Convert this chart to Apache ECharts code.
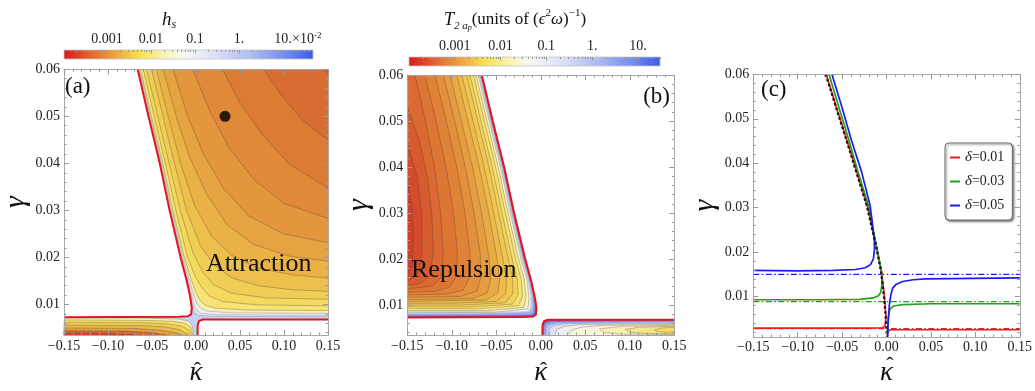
<!DOCTYPE html>
<html><head><meta charset="utf-8">
<script src="https://cdn.jsdelivr.net/npm/echarts@6/dist/echarts.min.js"></script>
<style>html,body{margin:0;padding:0;background:#fff}#c{width:1035px;height:391px}</style>
</head><body><div id="c"></div><script>
// ================= DATA =================
const xRange = [-0.15, 0.15];
const yRangeAB = [0.0035, 0.06];
const yRangeC = [0.0009, 0.06];
const xTicks = [-0.15, -0.10, -0.05, 0, 0.05, 0.10, 0.15];
const xTickLabels = ['−0.15', '−0.10', '−0.05', '0.00', '0.05', '0.10', '0.15'];
const yTicks = [0.01, 0.02, 0.03, 0.04, 0.05, 0.06];
const yTickLabels = ['0.01', '0.02', '0.03', '0.04', '0.05', '0.06'];
const cbTickValues = [0.001, 0.01, 0.1, 1, 10];
const cbTickLabelsA = ['0.001', '0.01', '0.1', '1.', '10.'];
const cbTickLabelsB = ['0.001', '0.01', '0.1', '1.', '10.'];
const cbRangeA = [1.054e-4, 48.1];
const cbRangeB = [1.0e-4, 30.3];

// shared phase boundaries (red curves)
const boundUpper = [[-0.0663,0.06],[-0.054,0.05],[-0.0412,0.04],[-0.030,0.03],[-0.0175,0.02],[-0.0105,0.015],[-0.0065,0.0115],[-0.0048,0.0092],[-0.0055,0.0079],[-0.009,0.0075],[-0.02,0.0074],[-0.15,0.0073]];
const boundLower = [[0.0018,0.0035],[0.0019,0.0056],[0.0035,0.0065],[0.008,0.0068],[0.15,0.0068]];

// panel (a) contour lines, attraction region (top edge -> right edge)
const aC0a = [[-0.0655,0.06],[-0.0532,0.05],[-0.0404,0.04],[-0.0292,0.03],[-0.0167,0.02],[-0.0097,0.015],[-0.0056,0.0115],[-0.0036,0.0092],[-0.002,0.0082],[0.003,0.0077],[0.02,0.0075],[0.15,0.0074]];
const aC0b = [[-0.0647,0.06],[-0.0524,0.05],[-0.0396,0.04],[-0.0284,0.03],[-0.0158,0.02],[-0.0087,0.015],[-0.0044,0.0117],[-0.002,0.0097],[0.001,0.0087],[0.006,0.0081],[0.025,0.0078],[0.15,0.0077]];
const aC0c = [[-0.064,0.06],[-0.0516,0.05],[-0.0388,0.04],[-0.0275,0.03],[-0.0148,0.02],[-0.0075,0.0152],[-0.0028,0.012],[0.001,0.0102],[0.005,0.0092],[0.012,0.0086],[0.04,0.0082],[0.15,0.0081]];
const aC1 = [[-0.0632,0.06],[-0.0507,0.05],[-0.0378,0.04],[-0.0263,0.03],[-0.0133,0.02],[-0.0058,0.0155],[-0.0005,0.0127],[0.004,0.0111],[0.01,0.0099],[0.022,0.0092],[0.06,0.0088],[0.15,0.0087]];
const aC2 = [[-0.0599,0.06],[-0.0475,0.05],[-0.0348,0.04],[-0.0228,0.03],[-0.0095,0.02],[-0.0005,0.0158],[0.007,0.0135],[0.015,0.0118],[0.03,0.0106],[0.07,0.0099],[0.15,0.0097]];
const aC3 = [[-0.0562,0.06],[-0.0435,0.05],[-0.0305,0.04],[-0.0178,0.03],[-0.0035,0.021],[0.008,0.0168],[0.02,0.0142],[0.04,0.0124],[0.08,0.0114],[0.15,0.0111]];
const aC4 = [[-0.0505,0.06],[-0.0375,0.05],[-0.0245,0.04],[-0.0108,0.03],[0.005,0.0225],[0.02,0.0185],[0.04,0.0157],[0.07,0.014],[0.11,0.0131],[0.15,0.0128]];
const aC5 = [[-0.0449,0.06],[-0.0315,0.05],[-0.0175,0.04],[-0.0015,0.031],[0.018,0.0245],[0.04,0.0205],[0.07,0.0177],[0.11,0.0163],[0.15,0.0156]];
const aC6 = [[-0.0374,0.06],[-0.0225,0.05],[-0.0065,0.041],[0.012,0.0335],[0.035,0.027],[0.065,0.0228],[0.105,0.0203],[0.15,0.0192]];
const aC7 = [[-0.0261,0.06],[-0.0095,0.05],[0.009,0.0418],[0.032,0.0345],[0.06,0.0288],[0.1,0.025],[0.15,0.0231]];
const aC8 = [[-0.0036,0.06],[0.016,0.051],[0.038,0.0432],[0.066,0.0365],[0.1,0.0315],[0.15,0.0283]];
const aC9 = [[0.0302,0.06],[0.05,0.0528],[0.075,0.0462],[0.105,0.04],[0.15,0.0347]];
const aC10 = [[0.0771,0.06],[0.097,0.0545],[0.122,0.049],[0.15,0.045]];
const aC11 = [[0.1447,0.06],[0.15,0.0591]];
// panel (a) contour lines, lower-left strip (left edge -> bottom edge)
const aL0 = [[-0.15,0.00715],[-0.06,0.0071],[-0.02,0.0069],[-0.009,0.0065],[-0.0045,0.0056],[-0.0025,0.0035]];
const aL1 = [[-0.15,0.0067],[-0.06,0.0066],[-0.025,0.0064],[-0.012,0.006],[-0.006,0.0052],[-0.0038,0.0035]];
const aL2 = [[-0.15,0.0062],[-0.06,0.0061],[-0.03,0.0058],[-0.015,0.0053],[-0.008,0.0045],[-0.0055,0.0035]];
const aL3 = [[-0.15,0.0056],[-0.06,0.0055],[-0.035,0.0052],[-0.018,0.0046],[-0.009,0.0035]];
const aL4 = [[-0.15,0.005],[-0.07,0.0049],[-0.04,0.0045],[-0.022,0.0039],[-0.016,0.0035]];
const aL5 = [[-0.15,0.0044],[-0.08,0.0043],[-0.05,0.004],[-0.033,0.0035]];
const aL6 = [[-0.15,0.0039],[-0.1,0.0038],[-0.07,0.0035]];
const aPoint = [[0.033, 0.05]];

// panel (b) contour lines, repulsion region (top edge -> left edge)
const bDb1 = [[-0.0668,0.06],[-0.0546,0.05],[-0.0418,0.04],[-0.0306,0.03],[-0.0182,0.02],[-0.0113,0.015],[-0.0074,0.0117],[-0.0059,0.0094],[-0.0066,0.0081],[-0.01,0.0077],[-0.15,0.0076]];
const bDb2 = [[-0.0673,0.06],[-0.0552,0.05],[-0.0424,0.04],[-0.0313,0.03],[-0.0189,0.02],[-0.0121,0.0152],[-0.0082,0.012],[-0.0071,0.0097],[-0.0085,0.0083],[-0.013,0.0079],[-0.15,0.0078]];
const bDb3 = [[-0.068,0.06],[-0.0559,0.05],[-0.0431,0.04],[-0.032,0.03],[-0.0197,0.02],[-0.013,0.0155],[-0.0093,0.012],[-0.0088,0.0095],[-0.012,0.0084],[-0.04,0.0081],[-0.15,0.008]];
const bDb4 = [[-0.069,0.06],[-0.0568,0.05],[-0.044,0.04],[-0.0329,0.03],[-0.0207,0.02],[-0.014,0.0155],[-0.0108,0.0118],[-0.011,0.0092],[-0.016,0.0085],[-0.15,0.0083]];
const bD12 = [[-0.0702,0.06],[-0.058,0.05],[-0.0452,0.04],[-0.0342,0.03],[-0.0222,0.02],[-0.0155,0.0155],[-0.0132,0.0116],[-0.0145,0.0092],[-0.05,0.0085],[-0.15,0.0085]];
const bD11 = [[-0.0728,0.06],[-0.0605,0.05],[-0.0478,0.04],[-0.0368,0.03],[-0.025,0.02],[-0.0185,0.0155],[-0.0165,0.0118],[-0.019,0.0095],[-0.06,0.0088],[-0.15,0.0088]];
const bD10 = [[-0.0758,0.06],[-0.0635,0.05],[-0.0508,0.04],[-0.0398,0.03],[-0.0282,0.02],[-0.022,0.0155],[-0.0205,0.012],[-0.025,0.0099],[-0.07,0.0092],[-0.15,0.0092]];
const bD9 = [[-0.0796,0.06],[-0.0672,0.05],[-0.0545,0.04],[-0.0435,0.03],[-0.0322,0.02],[-0.0265,0.0155],[-0.0255,0.0122],[-0.032,0.0102],[-0.08,0.0096],[-0.15,0.0096]];
const bD8 = [[-0.0833,0.06],[-0.0708,0.05],[-0.0582,0.04],[-0.0473,0.03],[-0.0365,0.02],[-0.0315,0.0155],[-0.0315,0.0124],[-0.04,0.0105],[-0.09,0.01],[-0.15,0.01]];
const bD7 = [[-0.0889,0.06],[-0.0762,0.05],[-0.0636,0.04],[-0.0528,0.03],[-0.0425,0.02],[-0.0385,0.0155],[-0.0395,0.0125],[-0.05,0.0108],[-0.1,0.0104],[-0.15,0.0104]];
const bD6 = [[-0.0945,0.06],[-0.0818,0.05],[-0.0692,0.04],[-0.0585,0.03],[-0.049,0.02],[-0.0462,0.0155],[-0.0485,0.0126],[-0.062,0.0111],[-0.15,0.0108]];
const bD5 = [[-0.102,0.06],[-0.0892,0.05],[-0.0768,0.04],[-0.0665,0.03],[-0.058,0.02],[-0.0565,0.0155],[-0.06,0.0127],[-0.076,0.0114],[-0.15,0.0112]];
const bD4 = [[-0.1096,0.06],[-0.0968,0.05],[-0.0848,0.04],[-0.075,0.03],[-0.068,0.021],[-0.0675,0.0158],[-0.072,0.013],[-0.09,0.0119],[-0.15,0.0117]];
const bD3 = [[-0.1189,0.06],[-0.1062,0.05],[-0.0945,0.04],[-0.0852,0.03],[-0.0795,0.021],[-0.0805,0.0158],[-0.087,0.0133],[-0.105,0.0124],[-0.15,0.0122]];
const bD2 = [[-0.1301,0.06],[-0.1178,0.05],[-0.1065,0.04],[-0.098,0.03],[-0.0935,0.021],[-0.0955,0.016],[-0.103,0.0138],[-0.12,0.013],[-0.15,0.0128]];
const bD1 = [[-0.1413,0.06],[-0.1295,0.05],[-0.1195,0.04],[-0.1125,0.03],[-0.1095,0.021],[-0.112,0.016],[-0.121,0.0142],[-0.15,0.0135]];
const bLoop3 = [[-0.15,0.053],[-0.137,0.046],[-0.1275,0.038],[-0.1225,0.03],[-0.121,0.022],[-0.124,0.0165],[-0.134,0.0148],[-0.15,0.0142]];
const bLoop2 = [[-0.15,0.045],[-0.139,0.038],[-0.134,0.03],[-0.1335,0.022],[-0.137,0.017],[-0.15,0.015]];
const bLoop1 = [[-0.15,0.037],[-0.1445,0.031],[-0.143,0.025],[-0.1445,0.019],[-0.15,0.016]];
// panel (b) contour lines, lower-right strip
const bF1 = [[0.0024,0.0035],[0.0025,0.0055],[0.0042,0.0062],[0.009,0.00655],[0.15,0.0066]];
const bF2 = [[0.0035,0.0035],[0.0036,0.0053],[0.0055,0.006],[0.012,0.0064],[0.15,0.0065]];
const bF3 = [[0.0055,0.0035],[0.0058,0.005],[0.0085,0.0058],[0.018,0.0062],[0.15,0.0064]];
const bF4 = [[0.009,0.0035],[0.0095,0.0048],[0.014,0.0056],[0.028,0.006],[0.15,0.0062]];
const bF5 = [[0.016,0.0035],[0.018,0.0047],[0.026,0.0054],[0.045,0.0058],[0.15,0.006]];
const bF6 = [[0.03,0.0035],[0.034,0.0045],[0.046,0.0052],[0.07,0.0056],[0.15,0.0058]];
const bG1 = [[0.15,0.0056],[0.09,0.0054],[0.066,0.0048],[0.07,0.0041],[0.09,0.0037],[0.15,0.0036]];
const bG2 = [[0.15,0.0054],[0.11,0.0052],[0.095,0.0047],[0.1,0.0041],[0.12,0.0038],[0.15,0.0038]];
const bG3 = [[0.15,0.0052],[0.135,0.005],[0.128,0.0046],[0.133,0.0042],[0.15,0.0041]];

// panel (c) curves
const deltaLabels = ['δ=0.01', 'δ=0.03', 'δ=0.05'];
const cDotted = [[-0.0685,0.06],[-0.056,0.052],[-0.0453,0.0453],[-0.034,0.038],[-0.0222,0.0304],[-0.0125,0.022],[-0.0061,0.0156],[-0.0027,0.0097],[-0.001,0.0055],[0.0005,0.0009]];
const cRedLeft = [[-0.15,0.0029],[-0.08,0.0029],[-0.02,0.0029],[-0.005,0.003],[-0.002,0.0033],[-0.0009,0.0045],[-0.0007,0.0058],[-0.0022,0.0097],[-0.0056,0.0156],[-0.012,0.022],[-0.0217,0.0304],[-0.0335,0.038],[-0.0448,0.0453],[-0.0555,0.052],[-0.068,0.06]];
const cRedRight = [[0.0006,0.0009],[0.0012,0.0018],[0.0025,0.0024],[0.006,0.00255],[0.15,0.00255]];
const cGreenLeft = [[-0.15,0.0093],[-0.08,0.0093],[-0.03,0.0094],[-0.015,0.0097],[-0.009,0.0102],[-0.0065,0.011],[-0.0053,0.0125],[-0.0052,0.014],[-0.0062,0.016],[-0.0085,0.0185],[-0.0125,0.0225],[-0.0203,0.0304],[-0.032,0.038],[-0.0425,0.0453],[-0.0535,0.0525],[-0.0648,0.06]];
const cGreenRight = [[0.0008,0.0012],[0.0014,0.0035],[0.0022,0.0058],[0.004,0.0072],[0.008,0.0079],[0.018,0.0082],[0.05,0.0084],[0.15,0.0084]];
const cBlueLeft = [[-0.15,0.0159],[-0.1,0.0158],[-0.06,0.0159],[-0.035,0.0161],[-0.024,0.0165],[-0.018,0.0172],[-0.0148,0.0185],[-0.0136,0.0205],[-0.0137,0.0225],[-0.0148,0.0245],[-0.0165,0.0275],[-0.0185,0.0305],[-0.028,0.038],[-0.0397,0.0453],[-0.05,0.0525],[-0.0615,0.06]];
const cBlueRight = [[0.0012,0.0009],[0.0018,0.004],[0.0032,0.0081],[0.0048,0.0103],[0.0069,0.0119],[0.011,0.0128],[0.0181,0.0134],[0.03,0.0138],[0.0443,0.014],[0.15,0.0142]];
const cAsymptoteGamma = [0.0028, 0.0089, 0.015]; // red, green, blue dash-dot levels

// ================= STYLE / LAYOUT =================
const SERIF = "'Liberation Serif', 'DejaVu Serif', serif";
const RED = '#ee1d1d', GREEN = '#22a022', BLUE = '#1c1cf2';
const LINE_DARK = 'rgba(70,60,50,0.5)', LINE_BLUE = 'rgba(90,100,160,0.55)';
const TR = [xRange[1], yRangeAB[1]], TL = [xRange[0], yRangeAB[1]];
const BL = [xRange[0], yRangeAB[0]], BR = [xRange[1], yRangeAB[0]];

function mk(lines, fills, corner, strokes) {
  return lines.map((pts, i) => ({pts, fill: fills[i], corner, line: strokes ? strokes[i] : LINE_DARK}));
}
const aAttr = mk([aC0a,aC0b,aC0c,aC1,aC2,aC3,aC4,aC5,aC6,aC7,aC8,aC9,aC10,aC11],
  ['#dfe4f4','#f2f1e6','#f8efb2','#f6e477','#f3d95f','#f0cd55','#edc04d','#e9b146','#e6a341','#e3963c','#e08938','#dc7b34','#d96d31','#d5602e'], TR,
  [LINE_BLUE,LINE_BLUE,LINE_BLUE,LINE_DARK,LINE_DARK,LINE_DARK,LINE_DARK,LINE_DARK,LINE_DARK,LINE_DARK,LINE_DARK,LINE_DARK,LINE_DARK,LINE_DARK]);
const aLow = mk([aL0,aL1,aL2,aL3,aL4,aL5,aL6],
  ['#f4f0d2','#f5e26a','#f1d057','#ebba4c','#e4a142','#da6a32','#d3472c'], BL);
const aWhite = [{pts: boundUpper, fill:'#fff', corner: TL, line:null}, {pts: boundLower, fill:'#fff', corner: BR, line:null}];

const bLeft = [{pts: boundUpper, fill:'#3d5de6', corner: TL, line:null}].concat(
  mk([bDb1,bDb2,bDb3,bDb4,bD12,bD11,bD10,bD9,bD8,bD7,bD6,bD5,bD4,bD3,bD2,bD1],
    ['#6f87ea','#a2b2ef','#cdd5f4','#ecedf3','#f8f3d0','#f8ea92','#f6e070','#f3d35c','#f0c752','#edba4b','#e9ab45','#e69d40','#e38f3b','#e08237','#dd7634','#da6a31'], TL,
    [LINE_BLUE,LINE_BLUE,LINE_BLUE,LINE_BLUE,LINE_DARK,LINE_DARK,LINE_DARK,LINE_DARK,LINE_DARK,LINE_DARK,LINE_DARK,LINE_DARK,LINE_DARK,LINE_DARK,LINE_DARK,LINE_DARK]),
  mk([bLoop3,bLoop2,bLoop1], ['#d65b2e','#d34d2c','#d0412a'], null));
const bRight = [{pts: boundLower, fill:'#3d5de6', corner: BR, line:null}].concat(
  mk([bF1,bF2,bF3,bF4,bF5,bF6], ['#6d85e6','#98a9ec','#bcc6f0','#dbe0f3','#eeeef0','#f8f4dc'], BR,
    [LINE_BLUE,LINE_BLUE,LINE_BLUE,LINE_BLUE,LINE_DARK,LINE_DARK]),
  mk([bG1,bG2,bG3], ['#f8efb8','#f6e68a','#f3dc62'], null));

function polySeries(g, items) {
  return {
    type: 'custom', xAxisIndex: 4*g, yAxisIndex: 4*g, clip: true, silent: true,
    dimensions: ['x','y','i'], encode: {x: 0, y: 1},
    data: items.map((it, i) => [it.pts[0][0], it.pts[0][1], i]),
    renderItem: (params, api) => {
      const i = api.value(2), it = items[i];
      const pts = it.pts.map(p => api.coord(p));
      const ring = it.corner ? pts.concat([api.coord(it.corner)]) : pts;
      const ch = [{type:'polygon', z2: 2*i, shape:{points: ring}, style:{fill: it.fill, stroke: it.fill, lineWidth: 0.5}}];
      if (it.line) ch.push({type:'polyline', z2: 2*i+1, shape:{points: pts}, style:{fill: null, stroke: it.line, lineWidth: 0.6}});
      return {type:'group', children: ch};
    }
  };
}

function minorTicks(lo, hi, step, majors) {
  const out = [];
  for (let k = Math.ceil(lo/step - 1e-9); k*step <= hi + 1e-12; k++) {
    const v = +(k*step).toFixed(6);
    if (!majors.some(m => Math.abs(m - v) < step/10)) out.push(v);
  }
  return out;
}
function fmt(v, vals, labels) { const i = vals.findIndex(t => Math.abs(t - v) < 1e-9); return i < 0 ? '' : labels[i]; }

const LAB = {fontFamily: SERIF, fontSize: 14, color: '#222'};
const FRAME = {show: true, onZero: false, lineStyle: {color: '#a8a8a8', width: 1}};
const NOLINE = {show: false, onZero: false};
const tick = (vals, len) => ({show: true, inside: true, length: len, customValues: vals, lineStyle: {color: '#9a9a9a', width: 1}});

function panelAxes(g, yR, o) {
  const xMin = minorTicks(xRange[0], xRange[1], 0.01, xTicks);
  const yMin = minorTicks(yR[0], yR[1], 0.002, yTicks);
  const bx = {type:'value', gridIndex:g, min:xRange[0], max:xRange[1], splitLine:{show:false}, z:10};
  const by = {type:'value', gridIndex:g, min:yR[0], max:yR[1], splitLine:{show:false}, z:10};
  const xs = [
    Object.assign({}, bx, {position:'bottom', axisLine:FRAME, axisTick:tick(xTicks,5),
      axisLabel:Object.assign({}, LAB, {margin:o.xm, customValues:xTicks, formatter: v => fmt(v, xTicks, xTickLabels)}),
      name:'κ', nameLocation:'middle', nameGap:o.xg,
      nameTextStyle:{fontFamily:SERIF, fontStyle:'italic', fontSize:27, color:'#111'}}),
    Object.assign({}, bx, {position:'bottom', axisLine:NOLINE, axisTick:tick(xMin,2.5), axisLabel:{show:false}}),
    Object.assign({}, bx, {position:'top', axisLine:FRAME, axisTick:tick(xTicks,5), axisLabel:{show:false}}),
    Object.assign({}, bx, {position:'top', axisLine:NOLINE, axisTick:tick(xMin,2.5), axisLabel:{show:false}})
  ];
  const ys = [
    Object.assign({}, by, {position:'left', axisLine:FRAME, axisTick:tick(yTicks,5),
      axisLabel:Object.assign({}, LAB, {margin:4, customValues:yTicks, formatter: v => fmt(v, yTicks, yTickLabels)}),
      name:'γ', nameLocation:'middle', nameGap:o.yg,
      nameTextStyle:{fontFamily:SERIF, fontStyle:'italic', fontSize:30, color:'#111'}}),
    Object.assign({}, by, {position:'left', axisLine:NOLINE, axisTick:tick(yMin,2.5), axisLabel:{show:false}}),
    Object.assign({}, by, {position:'right', axisLine:FRAME, axisTick:tick(yTicks,5), axisLabel:{show:false}}),
    Object.assign({}, by, {position:'right', axisLine:NOLINE, axisTick:tick(yMin,2.5), axisLabel:{show:false}})
  ];
  return {xs, ys};
}
function cbMinor(r) {
  const out = [];
  for (let d = -5; d <= 2; d++) for (let m = 2; m <= 9; m++) { const v = m * Math.pow(10, d); if (v >= r[0] && v <= r[1]) out.push(Math.log10(v)); }
  return out;
}
function cbAxes(g, r, labels) {
  const b = {type:'value', gridIndex:g, min:Math.log10(r[0]), max:Math.log10(r[1]), position:'top', splitLine:{show:false}, axisLine:NOLINE, z:10};
  const vals = cbTickValues.map(Math.log10);
  return {
    xs: [Object.assign({}, b, {axisTick:tick(vals,3.5), axisLabel:Object.assign({}, LAB, {margin:4, customValues:vals, formatter: v => fmt(v, vals, labels)})}),
         Object.assign({}, b, {axisTick:tick(cbMinor(r),2), axisLabel:{show:false}})],
    ys: [{type:'value', gridIndex:g, min:0, max:1, show:false}, {type:'value', gridIndex:g, min:0, max:1, show:false}]
  };
}
const GRAD = {type:'linear', x:0, y:0, x2:1, y2:0, colorStops:[
  {offset:0, color:'#d7191c'},{offset:0.1, color:'#e3612f'},{offset:0.2, color:'#eca03e'},{offset:0.3, color:'#f6e04e'},
  {offset:0.4, color:'#fbf3b3'},{offset:0.48, color:'#f8f8f6'},{offset:0.6, color:'#dde3f7'},{offset:0.75, color:'#aebcf1'},
  {offset:0.88, color:'#7890ee'},{offset:1, color:'#3b5be8'}]};
function cbSeries(axisIdx, r) {
  return {type:'custom', xAxisIndex:axisIdx, yAxisIndex:axisIdx, silent:true, encode:{x:[0,1]},
    data:[[Math.log10(r[0]), Math.log10(r[1])]],
    renderItem:(p, api) => { const a = api.coord([api.value(0), 0]), b = api.coord([api.value(1), 1]);
      return {type:'rect', shape:{x:a[0], y:b[1], width:b[0]-a[0], height:a[1]-b[1]}, style:{fill:GRAD, stroke:'#c4c4c4', lineWidth:0.8}}; }};
}

const PA = panelAxes(0, yRangeAB, {xm:4.5, xg:24, yg:33});
const PB = panelAxes(1, yRangeAB, {xm:4.5, xg:24, yg:33});
const PC = panelAxes(2, yRangeC, {xm:3, xg:20, yg:33});
const CA = cbAxes(3, cbRangeA, cbTickLabelsA);
const CB = cbAxes(4, cbRangeB, cbTickLabelsB);

function lineS(g, name, data, color, width, type, z) {
  return {type:'line', name, xAxisIndex:4*g, yAxisIndex:4*g, data, showSymbol:false, silent:true, animation:false, z: z || 3,
    lineStyle:{color, width, type: type || 'solid'}, itemStyle:{color}};
}
const DASHDOT = [6, 2.5, 1.5, 2.5];
const cColors = [RED, GREEN, BLUE];
// hats over the κ axis names (x centre of each panel, top y of the hat glyph box)
const hat = (x, y) => ({type:'text', x, y, z:100, style:{text:'ˆ', fontFamily:SERIF, fontSize:22, fill:'#111', align:'center', verticalAlign:'top'}});

const option = {
  animation: false,
  grid: [
    {left:61.7, top:69.3, width:266.3, height:266.7, show:true, backgroundColor:'#c6d0f1', borderWidth:0},
    {left:407.3, top:75, width:267, height:268.3, show:true, backgroundColor:'#ffffff', borderWidth:0},
    {left:753.3, top:74.3, width:267.7, height:265, show:false},
    {left:64, top:50, width:249, height:9, show:false},
    {left:409, top:57, width:251, height:9, show:false}
  ],
  xAxis: [].concat(PA.xs, PB.xs, PC.xs, CA.xs, CB.xs),
  yAxis: [].concat(PA.ys, PB.ys, PC.ys, CA.ys, CB.ys),
  legend: {data: deltaLabels, left:945, top:143, orient:'vertical', icon:'rect', itemWidth:10, itemHeight:2, itemGap:9,
    padding:[7,8,7,5], borderColor:'#666', borderWidth:1, borderRadius:4, backgroundColor:'#fff',
    shadowBlur:2, shadowOffsetX:1.5, shadowOffsetY:1.5, shadowColor:'rgba(0,0,0,0.45)', selectedMode:false,
    formatter: n => '{it|δ}{n|' + n.slice(1) + '}',
    textStyle:{fontFamily:SERIF, fontSize:14, color:'#222', lineHeight:14,
      rich:{it:{fontFamily:SERIF, fontStyle:'italic', fontSize:15, color:'#222'}, n:{fontFamily:SERIF, fontSize:14, color:'#222'}}}},
  series: [
    polySeries(0, aAttr), polySeries(0, aLow), polySeries(0, aWhite),
    lineS(0, 'bu', boundUpper, '#e8141c', 2, 'solid', 5), lineS(0, 'bl', boundLower, '#e8141c', 2, 'solid', 5),
    {type:'scatter', xAxisIndex:0, yAxisIndex:0, data:aPoint, symbolSize:11, itemStyle:{color:'#000'}, z:6, silent:true},
    polySeries(1, bLeft), polySeries(1, bRight),
    lineS(1, 'bu2', boundUpper, '#e8141c', 2, 'solid', 5), lineS(1, 'bl2', boundLower, '#e8141c', 2, 'solid', 5),
    ...cAsymptoteGamma.map((g, i) => lineS(2, 'dd' + i, [[xRange[0], g], [xRange[1], g]], cColors[i], 1.3, DASHDOT, 3)),
    lineS(2, deltaLabels[0], cRedLeft, RED, 1.7, 'solid', 4), lineS(2, deltaLabels[0], cRedRight, RED, 1.7, 'solid', 4),
    lineS(2, deltaLabels[1], cGreenLeft, GREEN, 1.7, 'solid', 4), lineS(2, deltaLabels[1], cGreenRight, GREEN, 1.7, 'solid', 4),
    lineS(2, deltaLabels[2], cBlueLeft, BLUE, 1.7, 'solid', 4), lineS(2, deltaLabels[2], cBlueRight, BLUE, 1.7, 'solid', 4),
    lineS(2, 'dotted', cDotted, '#111', 2.2, [2.5, 2.5], 5),
    cbSeries(12, cbRangeA), cbSeries(14, cbRangeB)
  ],
  graphic: [
    {type:'text', x:169, y:20, z:100, style:{text:'{h|h}{s|s}', align:'center', verticalAlign:'middle',
      rich:{h:{fontFamily:SERIF, fontStyle:'italic', fontSize:19, fill:'#111', lineHeight:22}, s:{fontFamily:SERIF, fontStyle:'italic', fontSize:12, fill:'#111', verticalAlign:'bottom', lineHeight:12}}}},
    {type:'text', x:292, y:39, z:100, style:{text:'{n|×10}{s|-2}', align:'left', verticalAlign:'middle',
      rich:{n:{fontFamily:SERIF, fontSize:14, fill:'#222', lineHeight:16}, s:{fontFamily:SERIF, fontSize:9, fill:'#222', verticalAlign:'top', lineHeight:9}}}},
    {type:'text', x:515, y:20, z:100, style:{text:'{t|T}{s|2 a}{p|p}{n|(units of (}{i|ϵ}{u|2}{i|ω}{n|)}{u|−1}{n|)}', align:'center', verticalAlign:'middle',
      rich:{t:{fontFamily:SERIF, fontStyle:'italic', fontSize:18, fill:'#111', lineHeight:24},
            s:{fontFamily:SERIF, fontStyle:'italic', fontSize:11, fill:'#111', verticalAlign:'bottom', lineHeight:11},
            p:{fontFamily:SERIF, fontStyle:'italic', fontSize:8, fill:'#111', verticalAlign:'bottom', lineHeight:6},
            n:{fontFamily:SERIF, fontSize:17, fill:'#111', lineHeight:24},
            i:{fontFamily:SERIF, fontStyle:'italic', fontSize:17, fill:'#111', lineHeight:24},
            u:{fontFamily:SERIF, fontSize:11, fill:'#111', verticalAlign:'top', lineHeight:11}}}},
    hat(197.5, 360), hat(543.5, 360), hat(890, 355.5),
    {type:'text', x:65, y:87, z:100, style:{text:'(a)', fontFamily:SERIF, fontSize:23, fill:'#111', align:'left', verticalAlign:'middle'}},
    {type:'text', x:670, y:97, z:100, style:{text:'(b)', fontFamily:SERIF, fontSize:23, fill:'#111', align:'right', verticalAlign:'middle'}},
    {type:'text', x:761, y:90, z:100, style:{text:'(c)', fontFamily:SERIF, fontSize:23, fill:'#111', align:'left', verticalAlign:'middle'}},
    {type:'text', x:206, y:264, z:100, style:{text:'Attraction', fontFamily:SERIF, fontSize:26, fill:'#111', align:'left', verticalAlign:'middle'}},
    {type:'text', x:411, y:270, z:100, style:{text:'Repulsion', fontFamily:SERIF, fontSize:26, fill:'#111', align:'left', verticalAlign:'middle'}}
  ]
};
const chart = echarts.init(document.getElementById('c'), null, {renderer:'canvas'});
chart.setOption(option);
</script></body></html>
